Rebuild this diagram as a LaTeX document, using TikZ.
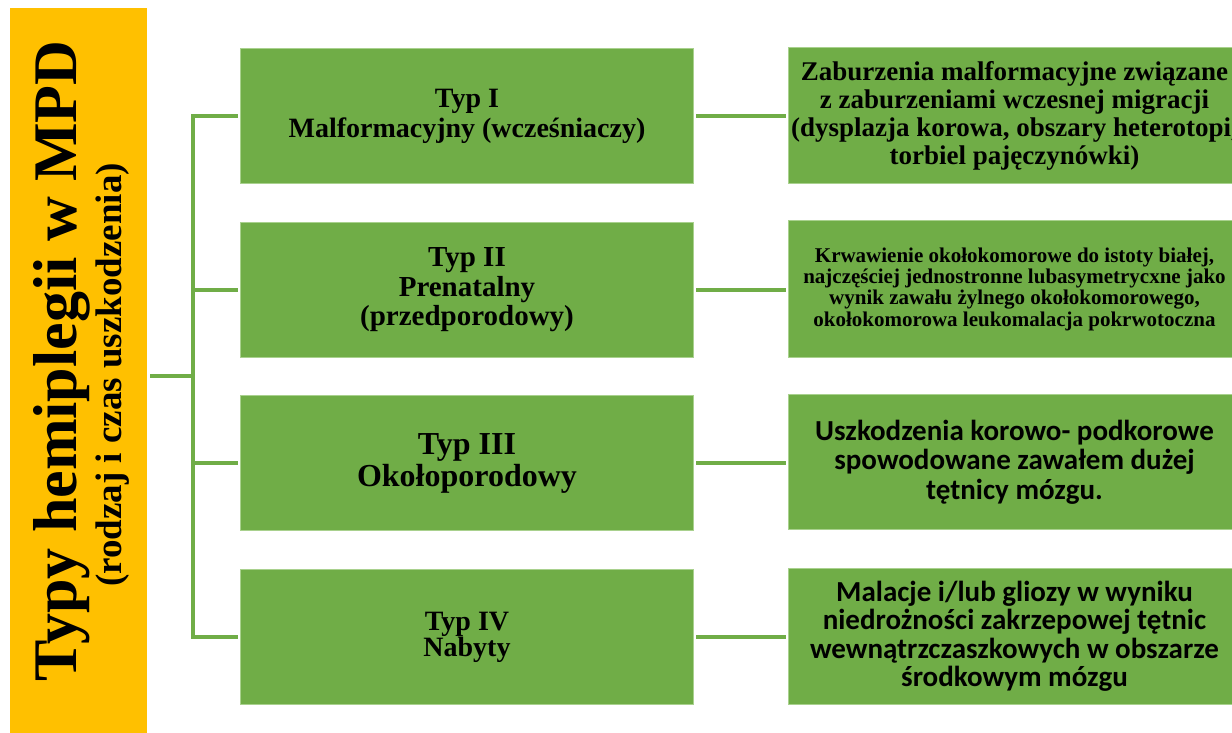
\documentclass[tikz,border=0pt]{standalone}
\usepackage{fontspec}
\setmainfont{Liberation Serif}
\newfontfamily\calfont{Carlito}
\definecolor{ygold}{HTML}{FFC000}
\definecolor{bgreen}{HTML}{70AD47}
\definecolor{bedge}{HTML}{A9D18E}
\tikzset{
  gbox/.style={fill=bgreen, draw=bedge, line width=1pt, minimum width=453pt, minimum height=135pt,
    inner sep=0pt, anchor=north west, align=center, font=\bfseries, text=black},
  conn/.style={draw=bgreen, line width=3.2pt},
}
\begin{document}
\begin{tikzpicture}[x=1pt,y=-1pt]
\useasboundingbox (0,0) rectangle (1232,733);
\fill[white] (0,0) rectangle (1232,733);
% yellow title box
\node[fill=ygold, inner sep=0pt, minimum width=137pt, minimum height=725pt, anchor=north west] (yel) at (10,8) {};
\node[rotate=90, anchor=base, inner sep=0pt, font=\bfseries\fontsize{62}{62}\selectfont] (t1) at (76,361) {Typy hemiplegii w MPD};
\node[rotate=90, anchor=base, inner sep=0pt, font=\bfseries\fontsize{37}{37}\selectfont] (t2) at (121,375) {(rodzaj i czas uszkodzenia)};
% middle boxes
\node[gbox, font=\bfseries\fontsize{28}{30}\selectfont] (m1) at (240,48) {Typ I\\Malformacyjny (wcześniaczy)};
\node[gbox, font=\bfseries\fontsize{29}{29.5}\selectfont] (m2) at (240,222) {Typ II\\Prenatalny\\(przedporodowy)};
\node[gbox, font=\bfseries\fontsize{32}{32}\selectfont] (m3) at (240,395) {Typ III\\Okołoporodowy};
\node[gbox, font=\bfseries\fontsize{28}{26}\selectfont] (m4) at (240,569) {Typ IV\\Nabyty};
% right boxes
\node[gbox, minimum width=452pt, minimum height=136pt, font=\bfseries\fontsize{27}{28}\selectfont] (r1) at (788,47) {Zaburzenia malformacyjne związane\\z zaburzeniami wczesnej migracji\\(dysplazja korowa, obszary heterotopi,\\torbiel pajęczynówki)};
\node[gbox, minimum width=452pt, minimum height=137pt, font=\bfseries\fontsize{21}{21.3}\selectfont] (r2) at (788,220) {Krwawienie okołokomorowe do istoty białej,\\najczęściej jednostronne lubasymetrycxne jako\\wynik zawału żylnego okołokomorowego,\\okołokomorowa leukomalacja pokrwotoczna};
\node[gbox, minimum width=452pt, font=\calfont\bfseries\fontsize{29}{29.5}\selectfont] (r3) at (788,394) {Uszkodzenia korowo- podkorowe\\spowodowane zawałem dużej\\tętnicy mózgu.};
\node[gbox, minimum width=452pt, minimum height=136pt, font=\calfont\bfseries\fontsize{29}{28.5}\selectfont] (r4) at (788,568) {Malacje i/lub gliozy w wyniku\\niedrożności zakrzepowej tętnic\\wewnątrzczaszkowych w obszarze\\środkowym mózgu};
% connectors
\coordinate (hub) at (193,376);
\coordinate (hs) at (150,376);
\draw[conn] (hs) -- (hub);
\draw[conn, line cap=rect] (m1.west -| hub) -- (m4.west -| hub);
\foreach \i in {1,2,3,4}{
  \draw[conn] (m\i.west -| hub) -- ([xshift=-2pt]m\i.west);
  \draw[conn] ([xshift=2pt]m\i.east) -- ([xshift=-2pt]m\i.east -| r\i.west);
}
\end{tikzpicture}
\end{document}
